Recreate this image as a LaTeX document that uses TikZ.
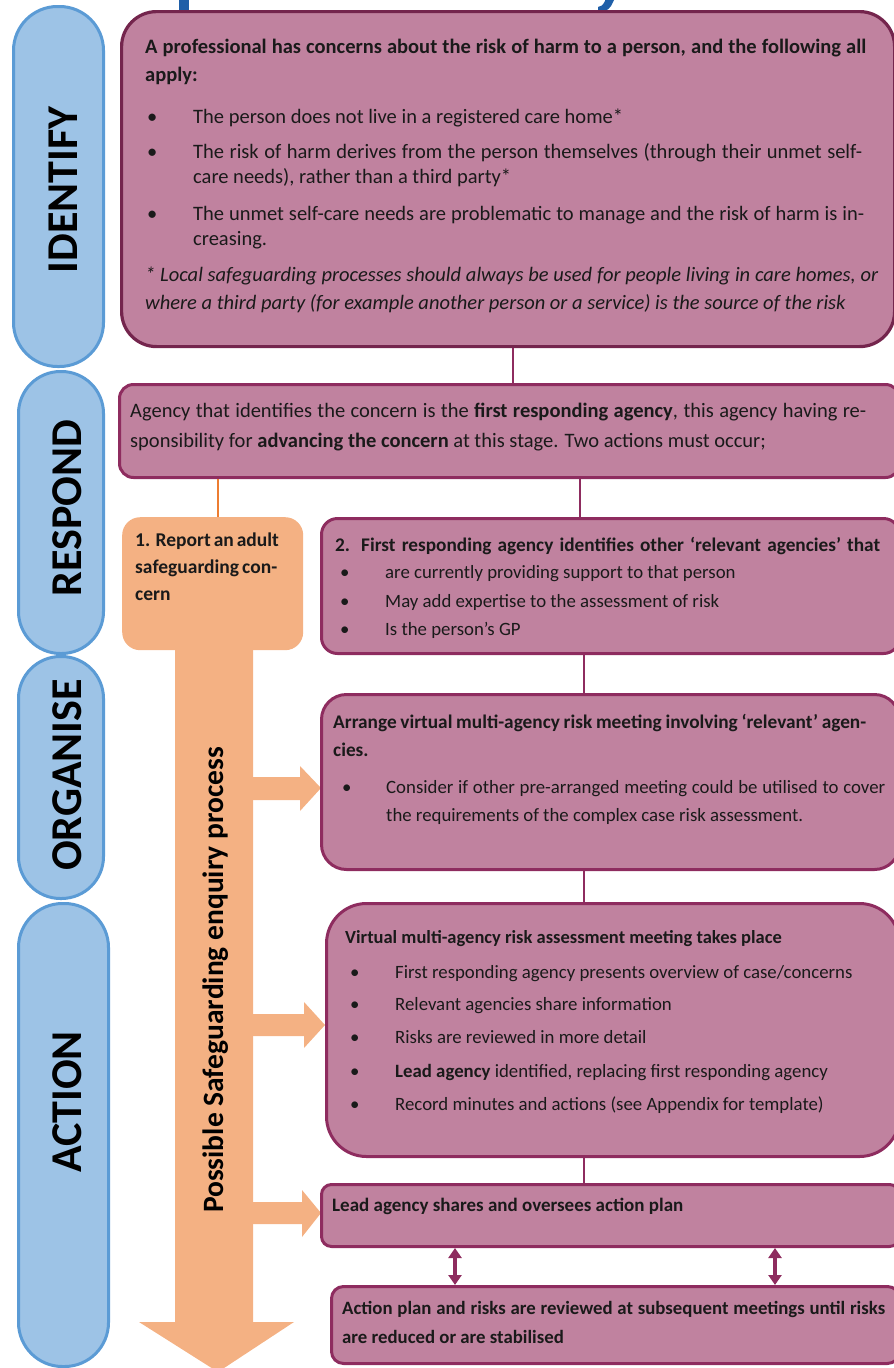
\documentclass[tikz,border=0pt]{standalone}
\usepackage{fontspec}
\setmainfont{Carlito}
\usetikzlibrary{arrows.meta}
\definecolor{bluefill}{HTML}{9DC3E6}
\definecolor{blueline}{HTML}{5B9BD5}
\definecolor{pfill}{HTML}{C0829F}
\definecolor{pline}{HTML}{8E2C5F}
\definecolor{pdark}{HTML}{74254D}
\definecolor{ofill}{HTML}{F4B183}
\definecolor{oline}{HTML}{ED7D31}
\definecolor{tblue}{HTML}{1F5FA8}
\definecolor{textc}{HTML}{1A1A1A}
\newcommand{\justline}[2]{\makebox[#1][s]{#2}}
\tikzset{
  pill/.style={draw=blueline, fill=bluefill, line width=3pt, anchor=north west, inner sep=0pt},
  pbox/.style={draw=pline, fill=pfill, line width=3pt, anchor=north west, inner sep=0pt},
  obox/.style={fill=ofill, anchor=north west, inner sep=0pt},
  big/.style={font=\fontsize{44}{44}\selectfont\bfseries, text=black, rotate=90, inner sep=0pt},
  tA/.style={anchor=base west, inner sep=0pt, text=textc, font=\fontsize{20.5}{24}\selectfont},
  tB/.style={anchor=base west, inner sep=0pt, text=textc, font=\fontsize{18.8}{22}\selectfont},
  tBb/.style={anchor=base west, inner sep=0pt, text=textc, font=\fontsize{19.3}{22}\selectfont\bfseries},
  conn/.style={draw=pline, line width=2.5pt},
  dbl/.style={draw=pline, line width=3.2pt, {Triangle[width=13pt,length=10pt]}-{Triangle[width=13pt,length=10pt]}},
}
\begin{document}
\begin{tikzpicture}[x=1pt,y=-1pt]
\useasboundingbox (0,0) rectangle (894,1368);
% title fragments
\fill[tblue] (179,0) rectangle (189,14);
\fill[tblue] (605,0) -- (614,0) -- (611,6) .. controls (608,11) and (603,12) .. (598,11) -- (598,7) .. controls (601,7) and (603,5) .. (605,1) -- cycle;
% pills
\node[pill, minimum width=90pt, minimum height=360pt, rounded corners=44pt] (idp) at (12,5) {};
\node[pill, minimum width=85pt, minimum height=282pt, rounded corners=42pt] (rp) at (17,370) {};
\node[pill, minimum width=85pt, minimum height=242pt, rounded corners=42pt] (op) at (17,655) {};
\node[pill, minimum width=90pt, minimum height=463pt, rounded corners=44pt] (ap) at (17,902) {};
\node[big] (idl) at (63,190) {IDENTIFY};
\node[big] (rl) at (67,508) {RESPOND};
\node[big] (ol) at (67,775) {ORGANISE};
\node[big] (al) at (67,1102) {ACTION};
% coordinates
\coordinate (xa) at (513,0);
\coordinate (xo) at (218,0);
\coordinate (xb) at (580,0);
\coordinate (xc) at (584,0);
\coordinate (xd) at (455,0);
\coordinate (xe) at (775,0);
% big orange arrow
\fill[ofill] (175,630) -- (253,630) -- (253,1322) -- (294,1322) -- (218,1372) -- (139,1322) -- (175,1322) -- cycle;
\fill[ofill] (250,777) -- (300,777) -- (300,766) -- (321,788) -- (300,811) -- (300,800) -- (250,800) -- cycle;
\fill[ofill] (250,1014) -- (304,1014) -- (304,1002) -- (325,1025) -- (304,1048) -- (304,1036) -- (250,1036) -- cycle;
\fill[ofill] (250,1202) -- (302,1202) -- (302,1190) -- (321,1213) -- (302,1237) -- (302,1224) -- (250,1224) -- cycle;
\node[font=\fontsize{29.5}{30}\selectfont\bfseries, text=black, rotate=90, inner sep=0pt] (proc) at (216,980) {Possible Safeguarding enquiry process};
% boxes
\node[pbox, draw=pdark, line width=3.2pt, minimum width=773pt, minimum height=335pt, rounded corners=35pt] (idb) at (120,10) {};
\node[pbox, minimum width=780pt, minimum height=93pt, rounded corners=14pt] (rb) at (118,383) {};
\node[obox, minimum width=181pt, minimum height=133pt, rounded corners=18pt] (ob) at (122,517) {};
\node[pbox, minimum width=578pt, minimum height=135pt, rounded corners=16pt] (b2) at (320,517) {};
\node[pbox, minimum width=578pt, minimum height=175pt, rounded corners=25pt] (orgb) at (320,693) {};
\node[pbox, minimum width=573pt, minimum height=253pt, rounded corners=40pt] (actb) at (325,902) {};
\node[pbox, minimum width=578pt, minimum height=62pt, rounded corners=10pt] (leadb) at (320,1183) {};
\node[pbox, minimum width=568pt, minimum height=77pt, rounded corners=12pt] (lastb) at (330,1285) {};
% connectors
\draw[conn] (idb.south -| xa) -- (rb.north -| xa);
\draw[draw=oline, line width=2pt] (rb.south -| xo) -- (ob.north -| xo);
\draw[conn] (rb.south -| xb) -- (b2.north -| xb);
\draw[conn] (b2.south -| xc) -- (orgb.north -| xc);
\draw[conn] (orgb.south -| xc) -- (actb.north -| xc);
\draw[conn] (actb.south -| xc) -- (leadb.north -| xc);
\draw[dbl] (leadb.south -| xd) -- (lastb.north -| xd);
\draw[dbl] (leadb.south -| xe) -- (lastb.north -| xe);
% identify text
\node[tA, font=\fontsize{20.5}{24}\selectfont\bfseries] (i1) at (145,53) {\justline{721pt}{A professional has concerns about the risk of harm to a person, and the following all}};
\node[tA, font=\fontsize{20.5}{24}\selectfont\bfseries] (i2) at (145,81) {apply:};
\node[tA] (ib1) at (147,123) {•};
\node[tA] (i3) at (193,123) {The person does not live in a registered care home*};
\node[tA] (ib2) at (147,158) {•};
\node[tA] (i4) at (193,158) {\justline{669pt}{The risk of harm derives from the person themselves (through their unmet self-}};
\node[tA] (i5) at (193,183) {care needs), rather than a third party*};
\node[tA] (ib3) at (147,220) {•};
\node[tA] (i6) at (193,220) {\justline{671pt}{The unmet self-care needs are problematic to manage and the risk of harm is in-}};
\node[tA] (i7) at (193,245) {creasing.};
\node[tA, font=\fontsize{20.5}{24}\selectfont\itshape] (i8) at (145,281) {\justline{733pt}{* Local safeguarding processes should always be used for people living in care homes, or}};
\node[tA, font=\fontsize{20.5}{24}\selectfont\itshape] (i9) at (145,309) {where a third party (for example another person or a service) is the source of the risk};
% respond text
\node[tA] (r1) at (130,417) {\justline{736pt}{Agency that identifies the concern is the \textbf{first responding agency}, this agency having re-}};
\node[tA] (r2) at (130,447) {sponsibility for \textbf{advancing the concern} at this stage. Two actions must occur;};
% orange box text
\node[tBb, font=\fontsize{19.5}{22}\selectfont\bfseries] (o1) at (135,546) {\justline{142pt}{1. Report an adult}};
\node[tBb, font=\fontsize{19.5}{22}\selectfont\bfseries] (o2) at (135,573) {\justline{142pt}{safeguarding con-}};
\node[tBb, font=\fontsize{19.5}{22}\selectfont\bfseries] (o3) at (135,600) {cern};
% box 2
\node[tBb] (b2t) at (335,551) {\justline{545pt}{2. First responding agency identifies other ‘relevant agencies’ that}};
\node[tB] (b2b1) at (340,578) {•};
\node[tB] (b2l1) at (385,578) {are currently providing support to that person};
\node[tB] (b2b2) at (340,607) {•};
\node[tB] (b2l2) at (385,607) {May add expertise to the assessment of risk};
\node[tB] (b2b3) at (340,635) {•};
\node[tB] (b2l3) at (385,635) {Is the person’s GP};
% organise
\node[tBb] (og1) at (333,728) {\justline{533pt}{Arrange virtual multi-agency risk meeting involving ‘relevant’ agen-}};
\node[tBb] (og2) at (333,756) {cies.};
\node[tB] (ogb) at (342,793) {•};
\node[tB] (og3) at (386,793) {\justline{499pt}{Consider if other pre-arranged meeting could be utilised to cover}};
\node[tB] (og4) at (386,821) {the requirements of the complex case risk assessment.};
% action
\node[tBb, font=\fontsize{18.5}{22}\selectfont\bfseries] (ac0) at (345,943) {Virtual multi-agency risk assessment meeting takes place};
\node[tB] (acb1) at (350,978) {•};
\node[tB] (ac1) at (395,978) {First responding agency presents overview of case/concerns};
\node[tB] (acb2) at (350,1010) {•};
\node[tB] (ac2) at (395,1010) {Relevant agencies share information};
\node[tB] (acb3) at (350,1043) {•};
\node[tB] (ac3) at (395,1043) {Risks are reviewed in more detail};
\node[tB] (acb4) at (350,1077) {•};
\node[tB] (ac4) at (395,1077) {\textbf{Lead agency} identified, replacing first responding agency};
\node[tB] (acb5) at (350,1110) {•};
\node[tB] (ac5) at (395,1110) {Record minutes and actions (see Appendix for template)};
% lead
\node[tBb, font=\fontsize{19}{22}\selectfont\bfseries] (ld) at (332,1211) {Lead agency shares and oversees action plan};
% last
\node[tBb, font=\fontsize{18.8}{22}\selectfont\bfseries] (ls1) at (342,1314) {\justline{543pt}{Action plan and risks are reviewed at subsequent meetings until risks}};
\node[tBb, font=\fontsize{18.8}{22}\selectfont\bfseries] (ls2) at (342,1343) {are reduced or are stabilised};
\end{tikzpicture}
\end{document}
